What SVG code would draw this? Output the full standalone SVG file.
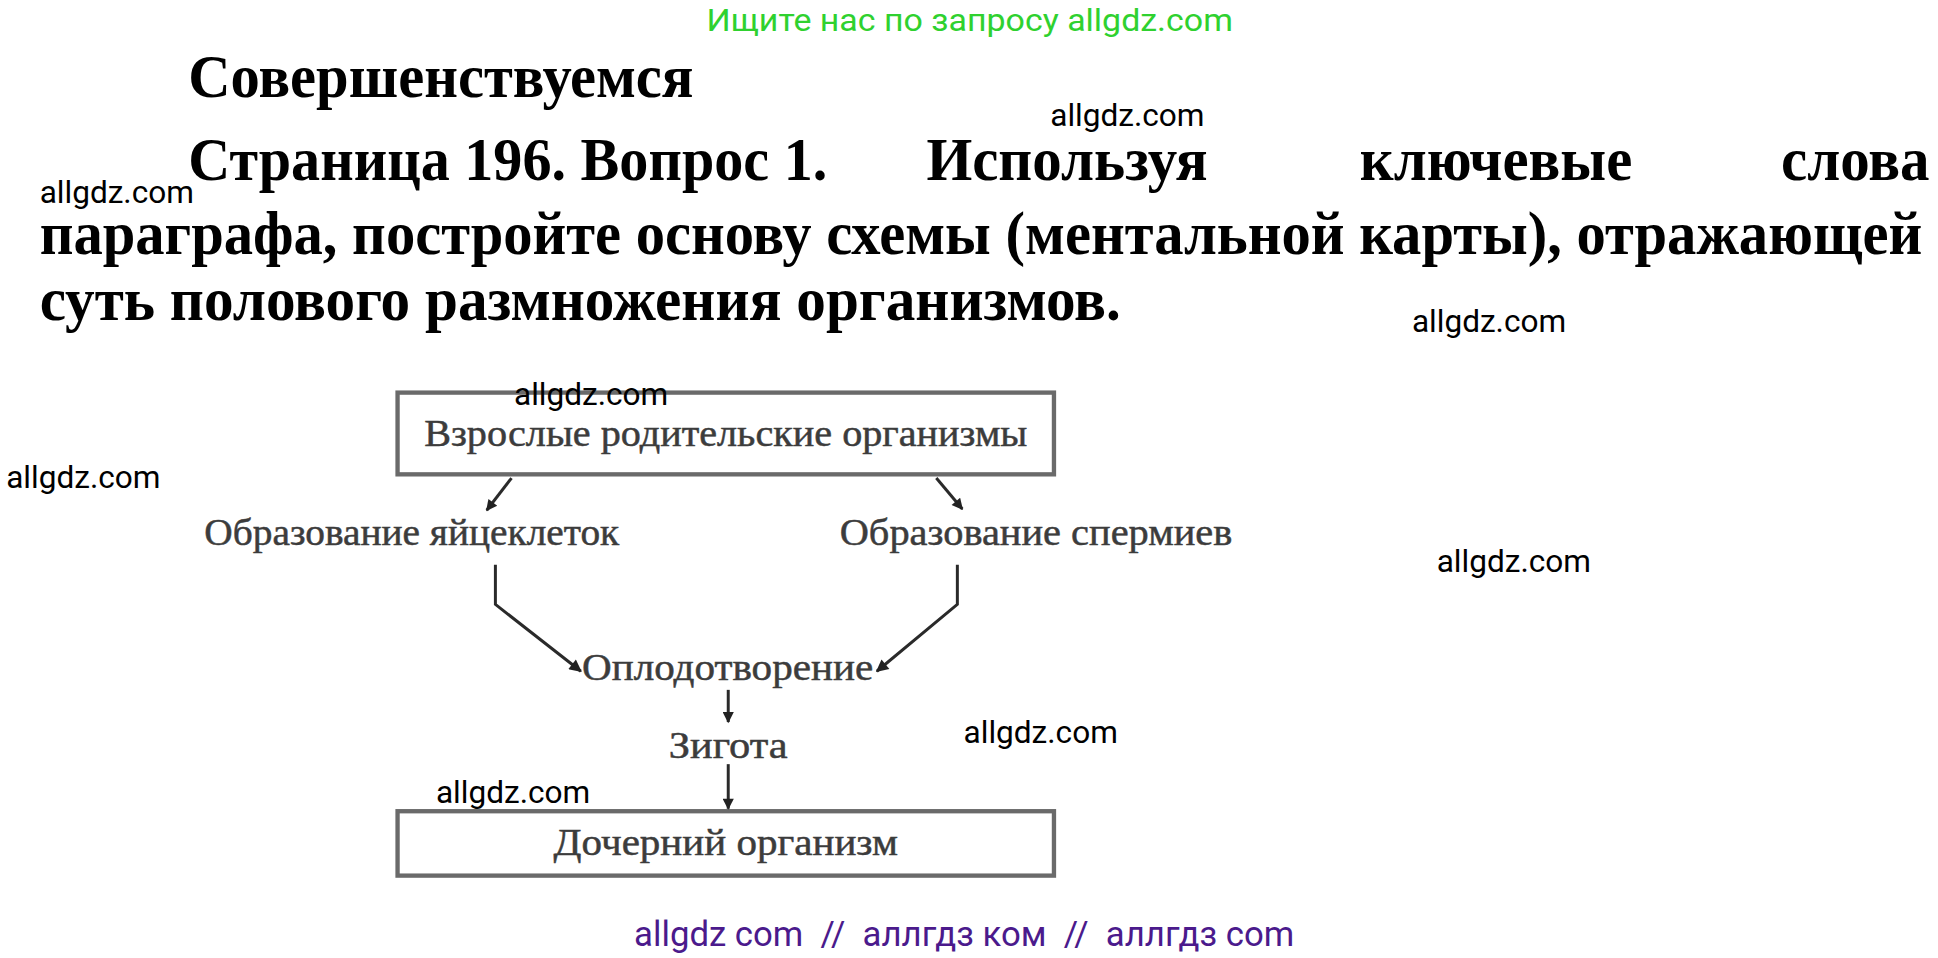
<svg xmlns="http://www.w3.org/2000/svg" width="1938" height="958" viewBox="0 0 1938 958">
<defs>
<style>
.wm{font-family:Roboto,"Liberation Sans",sans-serif;font-size:25.5px;fill:#000}
.h{font-family:"Liberation Serif","DejaVu Serif",serif;font-weight:bold;font-size:49px;fill:#000}
.d{font-family:"Liberation Serif","DejaVu Serif",serif;font-size:30px;fill:#3c3c3c;stroke:#3c3c3c;stroke-width:0.4}
.box{fill:#fff;stroke:#6a6a6a;stroke-width:3.5}
.c{fill:none;stroke:#2a2a2a;stroke-width:2.4}
</style>
<marker id="ah" viewBox="0 0 10 10" refX="9" refY="5" markerWidth="12" markerHeight="9" markerUnits="userSpaceOnUse" orient="auto"><path d="M0,0 L10,5 L0,10 z" fill="#222"/></marker>
<marker id="ahs" viewBox="0 0 10 10" refX="9" refY="5" markerWidth="15" markerHeight="10" markerUnits="userSpaceOnUse" orient="auto"><path d="M0,0 L10,5 L0,10 z" fill="#222"/></marker>
</defs>
<rect width="1938" height="958" fill="#fff"/>
<g transform="scale(1.2385)">
<text x="783" y="25" text-anchor="middle" font-family="Roboto,'Liberation Sans',sans-serif" font-size="25" fill="#2fd12f" textLength="425" lengthAdjust="spacingAndGlyphs">Ищите нас по запросу allgdz.com</text>
<text class="h" x="152" y="78" textLength="408" lengthAdjust="spacingAndGlyphs">Совершенствуемся</text>
<text class="h" x="152" y="145" textLength="516" lengthAdjust="spacingAndGlyphs">Страница 196. Вопрос 1.</text>
<text class="h" x="748" y="145" textLength="227" lengthAdjust="spacingAndGlyphs">Используя</text>
<text class="h" x="1098" y="145" textLength="220" lengthAdjust="spacingAndGlyphs">ключевые</text>
<text class="h" x="1438" y="145" textLength="120" lengthAdjust="spacingAndGlyphs">слова</text>
<text class="h" x="32" y="205" textLength="1520" lengthAdjust="spacingAndGlyphs">параграфа, постройте основу схемы (ментальной карты), отражающей</text>
<text class="h" x="32" y="258" textLength="873" lengthAdjust="spacingAndGlyphs">суть полового размножения организмов.</text>
<g id="node-parents">
<rect class="box" x="321" y="317" width="530" height="66"/>
<text class="d" x="586" y="360" text-anchor="middle" textLength="487" lengthAdjust="spacingAndGlyphs">Взрослые родительские организмы</text>
</g>
<g id="node-eggs">
<text class="d" x="165" y="440" textLength="335" lengthAdjust="spacingAndGlyphs">Образование яйцеклеток</text>
</g>
<g id="node-sperm">
<text class="d" x="678" y="440" textLength="317" lengthAdjust="spacingAndGlyphs">Образование спермиев</text>
</g>
<g id="node-fert">
<text class="d" x="470" y="549" textLength="235" lengthAdjust="spacingAndGlyphs">Оплодотворение</text>
</g>
<g id="node-zygote">
<text class="d" x="588" y="612" text-anchor="middle" textLength="96" lengthAdjust="spacingAndGlyphs">Зигота</text>
</g>
<g id="node-child">
<rect class="box" x="321" y="655" width="530" height="52"/>
<text class="d" x="586" y="690" text-anchor="middle" textLength="278" lengthAdjust="spacingAndGlyphs">Дочерний организм</text>
</g>
<g id="connectors">
<path class="c" d="M413,386 L393,412" marker-end="url(#ah)"/>
<path class="c" d="M756,386 L777,411" marker-end="url(#ah)"/>
<path class="c" d="M400,456 L400,488 L469,542" marker-end="url(#ahs)"/>
<path class="c" d="M773,456 L773,488 L708,542" marker-end="url(#ahs)"/>
<path class="c" d="M588,557 L588,583" marker-end="url(#ah)"/>
<path class="c" d="M588,617 L588,653" marker-end="url(#ah)"/>
</g>
<text class="wm" x="848" y="102">allgdz.com</text>
<text class="wm" x="32" y="164">allgdz.com</text>
<text class="wm" x="1140" y="268">allgdz.com</text>
<text class="wm" x="415" y="327">allgdz.com</text>
<text class="wm" x="5" y="394">allgdz.com</text>
<text class="wm" x="1160" y="462">allgdz.com</text>
<text class="wm" x="778" y="600">allgdz.com</text>
<text class="wm" x="352" y="648">allgdz.com</text>
<text x="512" y="764" font-family="Roboto,'Liberation Sans',sans-serif" font-size="29" fill="#4b1a8c" textLength="533" lengthAdjust="spacingAndGlyphs" xml:space="preserve">allgdz com  //  аллгдз ком  //  аллгдз com</text>
</g>
</svg>
